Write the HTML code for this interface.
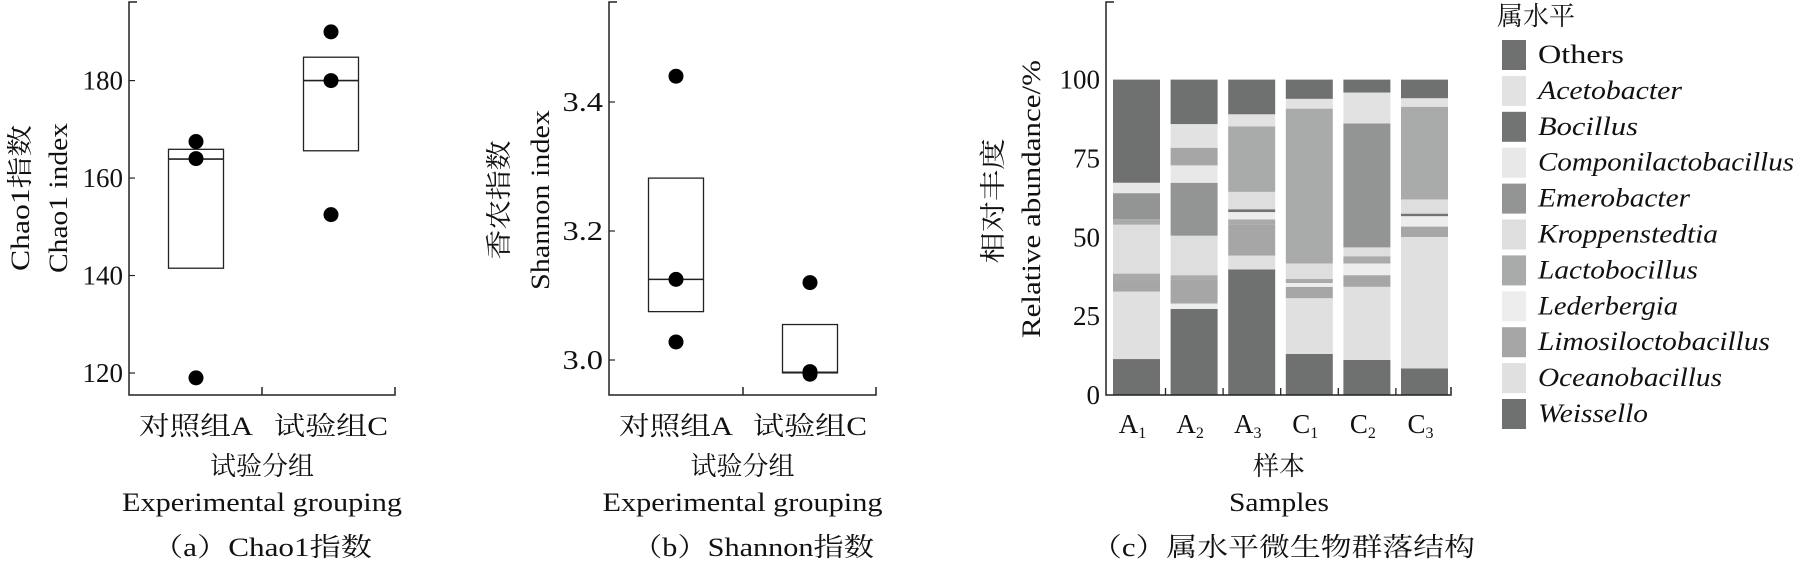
<!DOCTYPE html>
<html><head><meta charset="utf-8"><style>
html,body{margin:0;padding:0;background:#fff}
svg{display:block}
text{font-family:"Liberation Serif","Noto Serif CJK SC",serif;fill:#111}
.it{font-style:italic}
</style></head><body>
<svg id="chart" width="1796" height="563" viewBox="0 0 1796 563" xmlns="http://www.w3.org/2000/svg"></svg>
<script>
// Panel a data
const chaoGroups = ['对照组A','试验组C'];
const chaoBoxTop = [165.9, 184.8];
const chaoBoxMed = [163.9, 180.0];
const chaoBoxBot = [141.5, 165.6];
const chaoPointsA = [167.5, 164.0, 119.0];
const chaoPointsC = [190.0, 180.0, 152.5];
const chaoTicks = [120, 140, 160, 180];
// Panel b data
const shanGroups = ['对照组A','试验组C'];
const shanBoxTop = [3.282, 3.055];
const shanBoxMed = [3.125, 2.981];
const shanBoxBot = [3.075, 2.980];
const shanPointsA = [3.44, 3.125, 3.028];
const shanPointsC = [3.12, 2.978, 2.982];
const shanTicks = [3.0, 3.2, 3.4];
// Panel c data
const samples = ['A','A','A','C','C','C'];
const sampleSubs = ['1','2','3','1','2','3'];
const genera = ['Others','Acetobacter','Bocillus','Componilactobacillus','Emerobacter','Kroppenstedtia','Lactobocillus','Lederbergia','Limosiloctobacillus','Oceanobacillus','Weissello'];
const abTicks = [0, 25, 50, 75, 100];
const segCatsA1 = [10,9,8,6,5,6,4,3,0];
const segValsA1 = [11.4,21.4,3.5,2.2,15.5,1.7,8.3,3.3,32.7];
const segCatsA2 = [10,7,8,6,5,4,3,8,1,0];
const segValsA2 = [27.3,1.7,7.6,1.4,12.5,16.8,5.5,5.6,7.5,14.1];
const segCatsA3 = [10,9,8,6,7,2,5,6,1,0];
const segValsA3 = [39.8,4.4,9.9,1.6,2.3,0.9,5.5,20.8,3.8,11];
const segCatsC1 = [10,9,8,7,6,5,6,1,0];
const segValsC1 = [13,17.7,3.6,1.2,1.3,4.9,49.1,3.1,6.1];
const segCatsC2 = [10,9,8,7,6,5,4,1,0];
const segValsC2 = [11.1,23.2,3.7,3.7,2.3,2.8,39.3,9.8,4.1];
const segCatsC3 = [10,9,8,7,2,5,6,1,0];
const segValsC3 = [8.4,41.7,3.3,3.3,0.8,4.5,29.4,2.7,5.9];

const colors = ['#6f7171','#e2e2e2','#727474','#e8e8e8','#939595','#dedede','#a9abab','#ededed','#a6a6a6','#e0e0e0','#6f7171'];
const NS='http://www.w3.org/2000/svg';
const svg=document.getElementById('chart');
function mk(tag,attrs,parent){const e=document.createElementNS(NS,tag);for(const k in attrs)e.setAttribute(k,attrs[k]);(parent||svg).appendChild(e);return e;}
function txt(s,attrs,parent){const e=mk('text',attrs,parent);e.textContent=s;return e;}

function boxPanel(o){
  const g=mk('g',{});
  
  
  const y=v=>o.y0+(v-o.v0)*(o.y1-o.y0)/(o.v1-o.v0);
  const ax=mk('path',{d:`M${o.ax+8},${o.top} H${o.ax} V${o.bottom} H${o.right} V${o.bottom-8} M${o.mid},${o.bottom} V${o.bottom-8}`,fill:'none',stroke:'#222','stroke-width':1.5},g);
  
  
  o.ticks.forEach(t=>{
    const l=mk('line',{x1:o.ax,x2:o.ax+6,y1:y(t),y2:y(t),stroke:'#222','stroke-width':1.2},g);
    
    
    const s=o.fmt(t);
    const tl=txt(s,{x:o.ax-6,y:y(t)+9,'text-anchor':'end','font-size':27,textLength:s.length*13.5,lengthAdjust:'spacingAndGlyphs'},g);
    
    
  });
  o.groups.forEach((gname,i)=>{
    const cx=o.cx[i];
    const r=mk('rect',{x:cx-27.5,y:y(o.top_[i]),width:55,height:y(o.bot[i])-y(o.top_[i]),fill:'none',stroke:'#222','stroke-width':1.3},g);
    
    
    const m=mk('line',{x1:cx-27.5,x2:cx+27.5,y1:y(o.med[i]),y2:y(o.med[i]),stroke:'#222','stroke-width':1.6},g);
    
    
    o.pts[i].forEach(v=>{
      const c=mk('circle',{cx:cx,cy:y(v),r:7.5,fill:'#000'},g);
      
      
    });
    const cl=txt(gname,{x:cx,y:435,'text-anchor':'middle','font-size':26,textLength:114,lengthAdjust:'spacingAndGlyphs'},g);
    
    
  });
  const cxm=(o.ax+o.right)/2;
  const t1=txt('试验分组',{x:cxm,y:475,'text-anchor':'middle','font-size':26},g);
  
  
  const t2=txt('Experimental grouping',{x:cxm,y:511,'text-anchor':'middle','font-size':26,textLength:280,lengthAdjust:'spacingAndGlyphs'},g);
  
  
  const cap=txt(o.caption,{x:o.capX,y:556,'text-anchor':'middle','font-size':26,textLength:o.capW,lengthAdjust:'spacingAndGlyphs'},g);
  
  
  const yt1=txt(o.yt1,{transform:`translate(${o.ytx1},${o.ytc}) rotate(-90)`,'text-anchor':'middle','font-size':26,textLength:o.ytl1,lengthAdjust:'spacingAndGlyphs'},g);
  
  
  const yt2=txt(o.yt2,{transform:`translate(${o.ytx2},${o.ytc}) rotate(-90)`,'text-anchor':'middle','font-size':26,textLength:o.ytl2,lengthAdjust:'spacingAndGlyphs'},g);
  
  
}

boxPanel({name:'chao1-panel',ax:129,right:395,mid:262,top:2,bottom:395,v0:120,v1:180,y0:373,y1:80.6,
  ticks:chaoTicks,fmt:t=>String(t),groups:chaoGroups,cx:[196,331],top_:chaoBoxTop,med:chaoBoxMed,bot:chaoBoxBot,
  pts:[chaoPointsA,chaoPointsC],caption:'（a）Chao1指数',capX:262,capW:220,
  yt1:'Chao1指数',yt2:'Chao1 index',ytx1:29,ytx2:67,ytc:198,ytl1:146,ytl2:150});
boxPanel({name:'shannon-panel',ax:609,right:876,mid:743,top:2,bottom:395,v0:3.0,v1:3.4,y0:360,y1:102,
  ticks:shanTicks,fmt:t=>t.toFixed(1),groups:shanGroups,cx:[676,810],top_:shanBoxTop,med:shanBoxMed,bot:shanBoxBot,
  pts:[shanPointsA,shanPointsC],caption:'（b）Shannon指数',capX:753,capW:242,
  yt1:'香农指数',yt2:'Shannon index',ytx1:508,ytx2:549,ytc:200,ytl1:119,ytl2:180});

// Panel c
(function(){
  const g=mk('g',{});
  
  
  const ax=1106,bottom=395,right=1451,top=2;
  const y=v=>bottom-(v/100)*(bottom-79.6);
  const step=57.6, bw=47, x0=1113;
  const xb=i=>x0+i*step;
  const cats=[segCatsA1,segCatsA2,segCatsA3,segCatsC1,segCatsC2,segCatsC3];
  const vals=[segValsA1,segValsA2,segValsA3,segValsC1,segValsC2,segValsC3];
  samples.forEach((s,i)=>{
    let acc=0;
    vals[i].forEach((v,j)=>{
      const r=mk('rect',{x:xb(i),y:y(acc+v),width:bw,height:y(acc)-y(acc+v),fill:colors[cats[i][j]]},g);
      
      
      acc+=v;
    });
    const t=txt('',{x:xb(i)+bw/2-4,y:433,'text-anchor':'middle','font-size':27},g);
    
    
    const a=mk('tspan',{},t);a.textContent=s;
    const b=mk('tspan',{'font-size':16,dy:5},t);b.textContent=sampleSubs[i];
    if(i<5){
      const tk=mk('line',{x1:xb(i)+bw+5.5,x2:xb(i)+bw+5.5,y1:bottom,y2:bottom-7,stroke:'#222','stroke-width':1.3},g);
      
      
    }
  });
  const axp=mk('path',{d:`M${ax+8},${top} H${ax} V${bottom} H${right} V${bottom-8}`,fill:'none',stroke:'#222','stroke-width':1.5},g);
  
  
  abTicks.forEach(t=>{
    const s=String(t);
    const l=txt(s,{x:ax-6,y:y(t)+9,'text-anchor':'end','font-size':27,textLength:s.length*13.5,lengthAdjust:'spacingAndGlyphs'},g);
    
    
  });
  const t1=txt('样本',{x:1279,y:475,'text-anchor':'middle','font-size':26},g);
  
  
  const t2=txt('Samples',{x:1279,y:511,'text-anchor':'middle','font-size':26,textLength:100,lengthAdjust:'spacingAndGlyphs'},g);
  
  
  const cap=txt('（c）属水平微生物群落结构',{x:1283,y:556,'text-anchor':'middle','font-size':26,textLength:384,lengthAdjust:'spacingAndGlyphs'},g);
  
  
  const y1=txt('相对丰度',{transform:'translate(1002,201) rotate(-90)','text-anchor':'middle','font-size':26,textLength:125,lengthAdjust:'spacingAndGlyphs'},g);
  
  
  const y2=txt('Relative abundance/%',{transform:'translate(1040,199) rotate(-90)','text-anchor':'middle','font-size':26,textLength:278,lengthAdjust:'spacingAndGlyphs'},g);
  
  
  // legend
  const lg=mk('g',{},g);
  
  
  const lt=txt('属水平',{x:1497,y:25,'font-size':26},lg);
  
  
  const lens=[86,144,100,256,152,180,160,140,232,184,110];
  genera.forEach((name,k)=>{
    const yy=40+k*35.9;
    const e=mk('g',{},lg);
    
    
    mk('rect',{x:1502,y:yy,width:24,height:30,fill:colors[k]},e);
    const tx=txt(name,{x:1538,y:yy+23,'font-size':26,'font-style':k===0?'normal':'italic'},e);
    tx.setAttribute('textLength',lens[k]);
    tx.setAttribute('lengthAdjust','spacingAndGlyphs');
  });
})();
</script>
</body></html>
